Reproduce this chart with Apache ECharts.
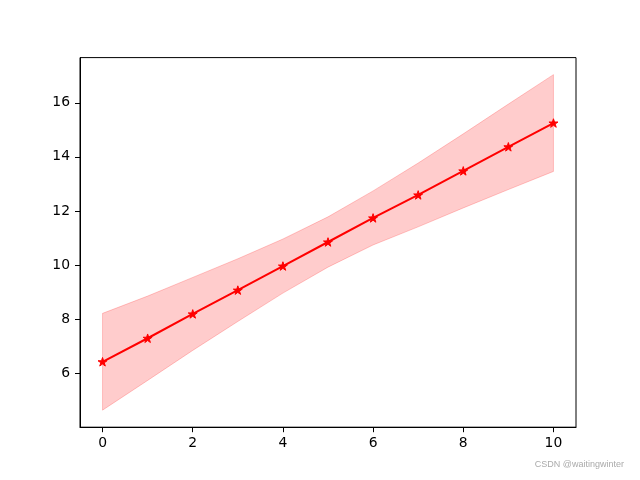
<!DOCTYPE html>
<html>
<head>
<meta charset="utf-8">
<script src="https://cdn.jsdelivr.net/npm/echarts@6/dist/echarts.min.js"></script>
<style>
html,body{margin:0;padding:0;background:#fff;}
#c{width:640px;height:480px;}
</style>
</head>
<body>
<div id="c"></div>
<script>
var xValues = [0, 1, 2, 3, 4, 5, 6, 7, 8, 9, 10];
var meanValues = [6.42, 7.29, 8.19, 9.07, 9.96, 10.85, 11.74, 12.59, 13.48, 14.37, 15.25];
var upperValues = [8.21, 8.85, 9.54, 10.23, 10.96, 11.78, 12.74, 13.77, 14.85, 15.95, 17.04];
var lowerValues = [4.63, 5.73, 6.84, 7.91, 8.96, 9.92, 10.74, 11.41, 12.11, 12.79, 13.46];
var xTicks = [0, 2, 4, 6, 8, 10];
var yTicks = [6, 8, 10, 12, 14, 16];

var starPath = 'path://M100,0 L122.45,69.1 L195.1,69.1 L136.3,111.8 L158.8,180.9 L100,138.2 L41.2,180.9 L63.7,111.8 L4.9,69.1 L77.55,69.1 Z';

var chart = echarts.init(document.getElementById('c'), null, {renderer: 'canvas'});

var lineData = xValues.map(function (x, i) { return [x, meanValues[i]]; });

var font = 'DejaVu Sans';

chart.setOption({
  backgroundColor: '#ffffff',
  animation: false,
  grid: {
    left: 80, right: 64, top: 57.6, bottom: 52.8,
    show: true, borderColor: '#000', borderWidth: 1, backgroundColor: 'transparent'
  },
  xAxis: {
    type: 'value',
    min: -0.5, max: 10.5,
    splitLine: {show: false},
    axisLine: {show: true, onZero: false, lineStyle: {color: '#000', width: 1}},
    axisTick: {show: true, length: 5, lineStyle: {color: '#000', width: 1}, customValues: xTicks},
    axisLabel: {show: true, color: '#000', fontFamily: font, fontSize: 13.9, margin: 9, customValues: xTicks,
      formatter: function (v) { return String(v); }}
  },
  yAxis: {
    type: 'value',
    min: 4.0, max: 17.67,
    splitLine: {show: false},
    axisLine: {show: true, onZero: false, lineStyle: {color: '#000', width: 1}},
    axisTick: {show: true, length: 5, lineStyle: {color: '#000', width: 1}, customValues: yTicks},
    axisLabel: {show: true, color: '#000', fontFamily: font, fontSize: 13.9, margin: 10, customValues: yTicks,
      formatter: function (v) { return String(v); }}
  },
  graphic: [{
    type: 'text',
    right: 16, top: 460,
    style: {text: 'CSDN @waitingwinter', fill: '#aaaaaa', font: '9px "Liberation Sans", Arial, sans-serif'}
  }],
  series: [
    {
      type: 'custom',
      data: [0],
      silent: true,
      z: 1,
      renderItem: function (params, api) {
        var pts = [];
        for (var i = 0; i < xValues.length; i++) pts.push(api.coord([xValues[i], upperValues[i]]));
        for (var j = xValues.length - 1; j >= 0; j--) pts.push(api.coord([xValues[j], lowerValues[j]]));
        return {
          type: 'polygon',
          shape: {points: pts},
          style: {fill: 'rgba(255,0,0,0.2)', stroke: 'rgba(255,0,0,0.2)', lineWidth: 1}
        };
      }
    },
    {
      type: 'line',
      data: lineData,
      z: 3,
      lineStyle: {color: '#ff0000', width: 2},
      itemStyle: {color: '#ff0000', borderColor: '#ff0000', borderWidth: 1},
      symbol: starPath,
      symbolSize: 9,
      symbolKeepAspect: true,
      showSymbol: true,
      silent: true
    }
  ]
});
</script>
</body>
</html>
